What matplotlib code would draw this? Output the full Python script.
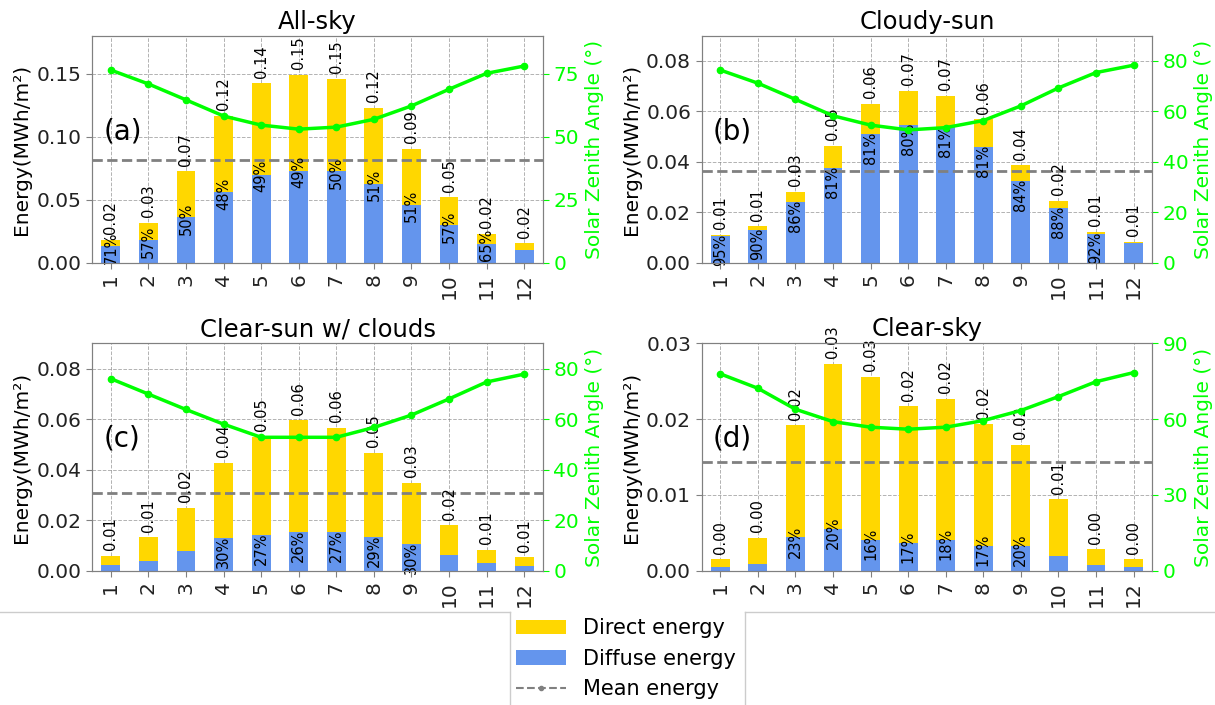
import matplotlib
matplotlib.use("Agg")
import matplotlib.pyplot as plt
import numpy as np
from matplotlib.patches import Patch
from matplotlib.lines import Line2D

# ---------------- data ----------------
months = ["1", "2", "3", "4", "5", "6", "7", "8", "9", "10", "11", "12"]
titles = ["All-sky", "Cloudy-sun", "Clear-sun w/ clouds", "Clear-sky"]
panel_tags = ["(a)", "(b)", "(c)", "(d)"]

total_a = [0.0185, 0.032, 0.0725, 0.1165, 0.1423, 0.149, 0.1458, 0.1228, 0.0904, 0.0522, 0.0232, 0.0155]
diffuse_a = [0.0131, 0.0182, 0.0363, 0.0559, 0.0697, 0.073, 0.0729, 0.0626, 0.0461, 0.0298, 0.0151, 0.0103]
pct_a = ["71%", "57%", "50%", "48%", "49%", "49%", "50%", "51%", "51%", "57%", "65%", ""]
sza_a = [76.4, 70.9, 64.6, 58.2, 54.6, 53.0, 53.8, 56.9, 62.2, 68.8, 75.1, 78.0]

total_b = [0.0111, 0.0145, 0.0283, 0.0464, 0.0631, 0.0681, 0.0663, 0.0569, 0.0387, 0.0246, 0.0124, 0.0083]
diffuse_b = [0.01055, 0.01305, 0.0243, 0.0376, 0.0511, 0.0545, 0.0537, 0.0461, 0.0325, 0.0216, 0.0114, 0.0078]
pct_b = ["95%", "90%", "86%", "81%", "81%", "80%", "81%", "81%", "84%", "88%", "92%", ""]
sza_b = [76.4, 71.2, 64.8, 58.3, 54.6, 52.7, 53.6, 56.4, 62.2, 69.3, 75.4, 78.3]

total_c = [0.0059, 0.0133, 0.0248, 0.0428, 0.053, 0.0596, 0.0566, 0.0466, 0.0349, 0.018, 0.0083, 0.0054]
diffuse_c = [0.0022, 0.0039, 0.0076, 0.0128, 0.0143, 0.0155, 0.0153, 0.0135, 0.0105, 0.0062, 0.003, 0.0018]
pct_c = ["", "", "", "30%", "27%", "26%", "27%", "29%", "30%", "", "", ""]
sza_c = [76.0, 69.9, 63.8, 58.0, 52.8, 52.8, 52.8, 56.7, 61.6, 68.0, 74.7, 77.8]

total_d = [0.0015, 0.00435, 0.0192, 0.0273, 0.0256, 0.0217, 0.0227, 0.0193, 0.0166, 0.0094, 0.00285, 0.0015]
diffuse_d = [0.0005, 0.0009, 0.0044, 0.0055, 0.0041, 0.0037, 0.0041, 0.0033, 0.0033, 0.002, 0.0007, 0.0005]
pct_d = ["", "", "23%", "20%", "16%", "17%", "18%", "17%", "20%", "", "", ""]
sza_d = [77.9, 72.2, 63.9, 59.0, 56.8, 56.0, 56.8, 59.4, 63.4, 68.9, 74.8, 78.4]

left_ticks = [[0, 0.05, 0.10, 0.15], [0, 0.02, 0.04, 0.06, 0.08],
              [0, 0.02, 0.04, 0.06, 0.08], [0, 0.01, 0.02, 0.03]]
left_ticklabels = [["0.00", "0.05", "0.10", "0.15"],
                   ["0.00", "0.02", "0.04", "0.06", "0.08"],
                   ["0.00", "0.02", "0.04", "0.06", "0.08"],
                   ["0.00", "0.01", "0.02", "0.03"]]
right_ticks = [[0, 25, 50, 75], [0, 20, 40, 60, 80], [0, 20, 40, 60, 80], [0, 30, 60, 90]]

# ---------------- style ----------------
W, H = 1215, 705
C_DIRECT = "#FFD700"
C_DIFFUSE = "#6495ED"
C_SZA = "#00FF00"
C_MEAN = "gray"
ylims = [0.18, 0.09, 0.09, 0.03]
pct_offset = [-1, -10, -10, -3]

fig = plt.figure(figsize=(W / 100, H / 100), dpi=100)

boxes = [
    (92, 35.7, 543, 263),
    (701.5, 35.7, 1152.3, 263),
    (92, 343.3, 543, 570.7),
    (701.5, 343.3, 1152.3, 570.7),
]

panels = [
    (total_a, diffuse_a, pct_a, sza_a),
    (total_b, diffuse_b, pct_b, sza_b),
    (total_c, diffuse_c, pct_c, sza_c),
    (total_d, diffuse_d, pct_d, sza_d),
]

x = np.arange(len(months))
for i, ((tot, dif, pct, sza), (x0, y0, x1, y1)) in enumerate(zip(panels, boxes)):
    ax = fig.add_axes([x0 / W, 1 - y1 / H, (x1 - x0) / W, (y1 - y0) / H])
    tot = np.array(tot)
    dif = np.array(dif)
    direct = tot - dif
    ax.bar(x, dif, width=0.5, color=C_DIFFUSE, zorder=2)
    ax.bar(x, direct, width=0.5, bottom=dif, color=C_DIRECT, zorder=2)
    ax.axhline(tot.mean(), color=C_MEAN, ls="--", lw=2, zorder=3)
    ax.set_xlim(-0.5, len(months) - 0.5)
    ax.set_ylim(0, ylims[i])
    ax.set_yticks(left_ticks[i])
    ax.set_yticklabels(left_ticklabels[i])
    ax.set_xticks(x)
    ax.set_xticklabels(months, rotation=90)
    ax.tick_params(labelsize=14.5, colors="#222222", length=4)
    ax.tick_params(axis="both", color="gray")
    ax.set_axisbelow(True)
    ax.grid(True, ls="--", color="gray", lw=0.7, alpha=0.6)
    for s in ax.spines.values():
        s.set_color("gray")
    ax.set_ylabel("Energy(MWh/m²)", fontsize=14.5, labelpad=4)
    ax.set_title(titles[i], fontsize=17.5, pad=5)
    ax.text(0.025, 0.58, panel_tags[i], transform=ax.transAxes, fontsize=20,
            va="center", ha="left", zorder=6)
    for xi, t, d, p in zip(x, tot, dif, pct):
        ax.annotate(f"{t:.2f}", (xi, t), xytext=(0, 4), textcoords="offset points",
                    rotation=90, ha="center", va="bottom", fontsize=10.5, zorder=5)
        if p:
            ax.annotate(p, (xi, d), xytext=(0, pct_offset[i]), textcoords="offset points",
                        rotation=90, ha="center", va="center", fontsize=10.5, zorder=5)

    ax2 = ax.twinx()
    ax2.plot(x, sza, color=C_SZA, lw=2.5, marker=".", ms=9, zorder=4)
    ax2.set_ylim(0, 90)
    ax2.set_yticks(right_ticks[i])
    ax2.tick_params(axis="y", labelsize=14.5, labelcolor=C_SZA, color=C_SZA, length=4)
    ax2.set_ylabel("Solar Zenith Angle (°)", fontsize=14.5, color=C_SZA)
    for s in ax2.spines.values():
        s.set_color("gray")

# legend
handles = [
    Patch(facecolor=C_DIRECT, label="Direct energy"),
    Patch(facecolor=C_DIFFUSE, label="Diffuse energy"),
    Line2D([], [], color=C_MEAN, ls="--", lw=1.5, marker=".", ms=6, label="Mean energy"),
]
fig.legend(handles=handles, loc="upper left", bbox_to_anchor=(510 / W, 1 - 612 / H),
           frameon=False, fontsize=15, handlelength=2.4, borderaxespad=0,
           borderpad=0.3, labelspacing=0.5)

# frame lines around legend region
lc = "#cccccc"
yl = 1 - 612 / H
fig.add_artist(Line2D([0, 510 / W], [yl, yl], transform=fig.transFigure, color=lc, lw=1))
fig.add_artist(Line2D([745 / W, 1], [yl, yl], transform=fig.transFigure, color=lc, lw=1))
fig.add_artist(Line2D([510 / W, 510 / W], [0, yl], transform=fig.transFigure, color=lc, lw=1))
fig.add_artist(Line2D([745 / W, 745 / W], [0, yl], transform=fig.transFigure, color=lc, lw=1))

fig.savefig("out.png", dpi=100)
